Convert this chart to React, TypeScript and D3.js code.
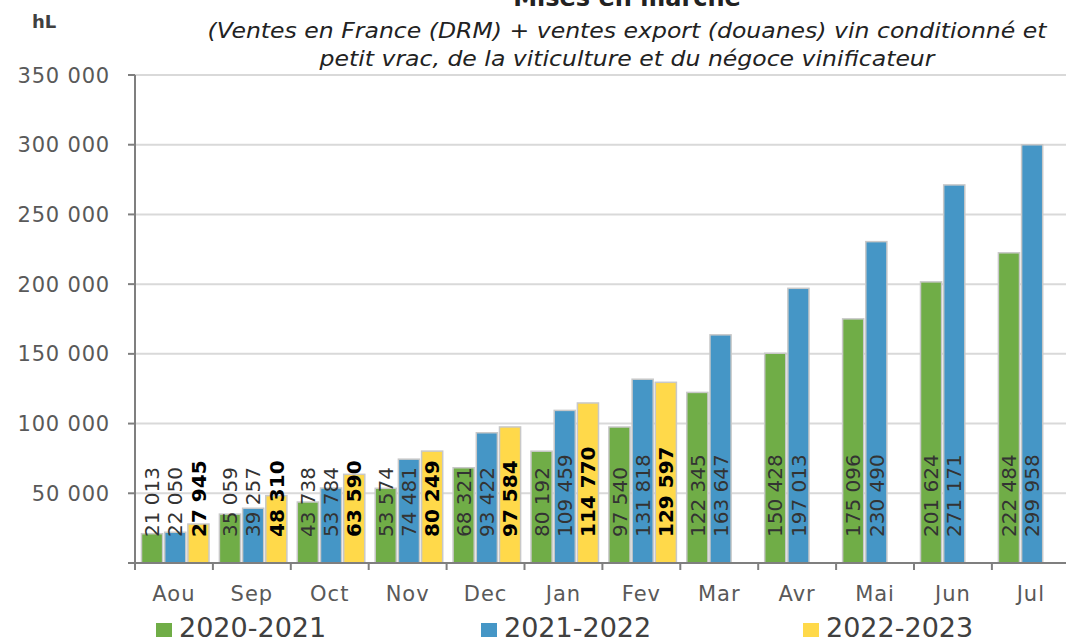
import React from 'react';
import * as d3 from 'd3';

// data  -------------------------------------------------------------
const months = ['Aou', 'Sep', 'Oct', 'Nov', 'Dec', 'Jan', 'Fev', 'Mar', 'Avr', 'Mai', 'Jun', 'Jul'];
const seasons = ['2020-2021', '2021-2022', '2022-2023'];
const values2021 = [21013, 35059, 43738, 53574, 68321, 80192, 97540, 122345, 150428, 175096, 201624, 222484];
const values2122 = [22050, 39257, 53784, 74481, 93422, 109459, 131818, 163647, 197013, 230490, 271171, 299958];
const values2223 = [27945, 48310, 63590, 80249, 97584, 114770, 129597];
const yTicks = [50000, 100000, 150000, 200000, 250000, 300000, 350000];
const colors = ['#70ad47', '#4596c6', '#ffd94a'];

const series = [values2021, values2122, values2223];

const [width, height] = [1066, 641];
const left = 135;
const bottom = 563;
const top = 75;
const step = 77.9;

const fmt = (v: number) => d3.format(',')(v).replace(/,/g, ' ');

const App = () => {
    const x0 = d3.scaleBand<string>()
        .domain(months)
        .range([left, left + step * months.length]);
    const x1 = d3.scaleBand<string>()
        .domain(seasons)
        .range([6.5, 74])
        .paddingInner(0.09);
    const y = d3.scaleLinear()
        .domain([0, 350000])
        .range([bottom, top]);

    const tickFont = "'DejaVu Sans', sans-serif";

    return (
        <svg width={width} height={height} style={{ display: 'block', position: 'absolute', left: 0, top: 0, background: '#fff' }}>
            {/* titles */}
            <text x={627} y={6} textAnchor="middle" fontFamily={tickFont} fontWeight="bold" fontSize={24} fill="#222">
                Mises en marché
            </text>
            <text x={627} y={38} textAnchor="middle" fontFamily={tickFont} fontStyle="italic" fontSize={22} fill="#222"
                textLength={839} lengthAdjust="spacingAndGlyphs">
                (Ventes en France (DRM) + ventes export (douanes) vin conditionné et
            </text>
            <text x={627} y={66} textAnchor="middle" fontFamily={tickFont} fontStyle="italic" fontSize={22} fill="#222"
                textLength={615} lengthAdjust="spacingAndGlyphs">
                petit vrac, de la viticulture et du négoce vinificateur
            </text>
            <text x={32} y={28} fontFamily={tickFont} fontWeight="bold" fontSize={18} fill="#404040">hL</text>

            {/* grid + y axis */}
            {yTicks.map((t) => (
                <g key={t}>
                    <line x1={left} x2={width} y1={y(t)} y2={y(t)} stroke="#d9d9d9" strokeWidth={2} />
                    <line x1={left - 7} x2={left} y1={y(t)} y2={y(t)} stroke="#7f7f7f" strokeWidth={2} />
                    <text x={110} y={y(t)} dy="0.36em" textAnchor="end" fontFamily={tickFont} fontSize={21}
                        letterSpacing={0.8} fill="#595959">
                        {fmt(t)}
                    </text>
                </g>
            ))}

            {/* bars */}
            {months.map((m, i) => (
                <g key={m} transform={`translate(${x0(m)},0)`}>
                    {seasons.map((s, j) => {
                        const v = series[j][i];
                        if (v === undefined) return null;
                        const bx = x1(s)!;
                        const bw = x1.bandwidth();
                        return (
                            <rect key={s} x={bx} y={y(v)} width={bw} height={bottom - y(v)}
                                fill={colors[j]} stroke="#c8c8c8" strokeWidth={1.5} />
                        );
                    })}
                </g>
            ))}

            {/* value labels */}
            {months.map((m, i) => (
                <g key={m} transform={`translate(${x0(m)},0)`}>
                    {seasons.map((s, j) => {
                        const v = series[j][i];
                        if (v === undefined) return null;
                        const cx = x1(s)! + x1.bandwidth() / 2;
                        return (
                            <text key={s} transform={`translate(${cx},${bottom - 26}) rotate(-90)`}
                                dy="0.36em" fontFamily={tickFont} fontSize={20}
                                fontWeight={j === 2 ? 'bold' : 'normal'}
                                fill={j === 2 ? '#000' : '#333'}>
                                {fmt(v)}
                            </text>
                        );
                    })}
                </g>
            ))}

            {/* axes */}
            <line x1={left} x2={left} y1={top} y2={bottom + 7} stroke="#7f7f7f" strokeWidth={2} />
            <line x1={left - 7} x2={width} y1={bottom} y2={bottom} stroke="#7f7f7f" strokeWidth={2} />
            {months.map((m) => (
                <g key={m}>
                    <line x1={x0(m)! + step} x2={x0(m)! + step} y1={bottom} y2={bottom + 7} stroke="#7f7f7f" strokeWidth={2} />
                    <text x={x0(m)! + step / 2} y={593} dy="0.36em" textAnchor="middle" fontFamily={tickFont} fontSize={21}
                        letterSpacing={1} fill="#595959">
                        {m}
                    </text>
                </g>
            ))}

            {/* legend */}
            {seasons.map((s, j) => {
                const lx = [156, 481, 803][j];
                return (
                    <g key={s}>
                        <rect x={lx} y={623} width={16} height={14} fill={colors[j]} />
                        <text x={lx + 23} y={637} fontFamily={tickFont} fontSize={27} fill="#404040">{s}</text>
                    </g>
                );
            })}
        </svg>
    );
};

export default App;
